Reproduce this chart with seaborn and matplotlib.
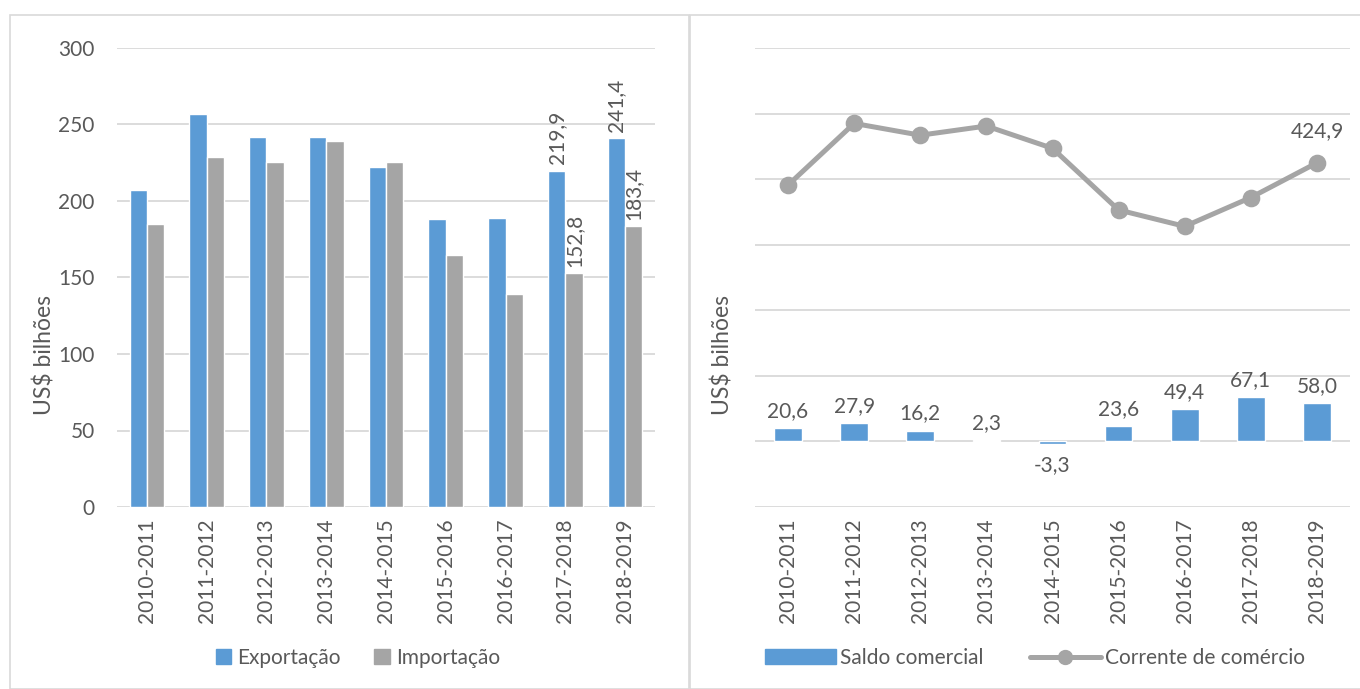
import numpy as np
import pandas as pd
import seaborn as sns
import matplotlib.pyplot as plt
from matplotlib.patches import Rectangle, Patch
from matplotlib.lines import Line2D

# dados (US$ bilhões)
periodos = ['2010-2011', '2011-2012', '2012-2013', '2013-2014', '2014-2015',
            '2015-2016', '2016-2017', '2017-2018', '2018-2019']
exportacao = [207.2, 256.7, 241.8, 241.8, 222.5, 188.5, 188.8, 219.9, 241.4]
importacao = [184.8, 228.8, 225.6, 239.5, 225.6, 164.9, 139.0, 152.8, 183.4]
saldo = [20.6, 27.9, 16.2, 2.3, -3.3, 23.6, 49.4, 67.1, 58.0]
corrente = [391.0, 485.0, 467.0, 481.0, 447.0, 353.0, 328.0, 372.0, 424.9]

azul = '#5B9BD5'
cinza = '#A5A5A5'
texto = '#595959'
grade = '#D9D9D9'
fs = 15

sns.set_theme(style='white')
plt.rcParams['font.family'] = ['Lato', 'DejaVu Sans']
plt.rcParams['text.color'] = texto

W, H = 1360, 689
fig = plt.figure(figsize=(W / 100, H / 100), dpi=100)

# molduras dos dois painéis
fig.patches.append(Rectangle((10 / W, 0), 679 / W, 1 - 15 / H, transform=fig.transFigure,
                             fill=False, edgecolor=grade, linewidth=1.2))
fig.patches.append(Rectangle((690 / W, 0), 680 / W, 1 - 15 / H, transform=fig.transFigure,
                             fill=False, edgecolor=grade, linewidth=1.2))

ax1 = fig.add_axes([117 / W, 1 - 507 / H, 538 / W, 459 / H])
ax2 = fig.add_axes([755 / W, 1 - 507 / H, 595 / W, 459 / H])

# painel esquerdo
df = pd.DataFrame({'periodo': periodos * 2,
                   'valor': exportacao + importacao,
                   'tipo': ['Exportação'] * 9 + ['Importação'] * 9})
sns.barplot(data=df, x='periodo', y='valor', hue='tipo', palette=[azul, cinza],
            width=0.58, saturation=1, ax=ax1, legend=False, zorder=3)
ax1.set_ylim(0, 300)
ax1.set_yticks(range(0, 301, 50))
ax1.set_xlim(-0.5, 8.5)
ax1.grid(axis='y', color=grade, linewidth=1.3, zorder=0)

for i in (7, 8):
    ax1.text(i - 0.145, exportacao[i] + 4, f'{exportacao[i]:.1f}'.replace('.', ','),
             rotation=90, ha='center', va='bottom', fontsize=fs, color=texto)
    ax1.text(i + 0.145, importacao[i] + 4, f'{importacao[i]:.1f}'.replace('.', ','),
             rotation=90, ha='center', va='bottom', fontsize=fs, color=texto)

ax1.legend(handles=[Patch(color=azul, label='Exportação'), Patch(color=cinza, label='Importação')],
           loc='center', bbox_to_anchor=(358 / W, 1 - 658 / H), bbox_transform=fig.transFigure,
           ncol=2, frameon=False, fontsize=fs, handlelength=0.75, handleheight=0.75,
           handletextpad=0.3, columnspacing=1.6, labelcolor=texto)

# painel direito
sns.barplot(x=periodos, y=saldo, color=azul, width=0.42, saturation=1, ax=ax2, zorder=3)
sns.pointplot(x=periodos, y=corrente, color=cinza, markers='o', ax=ax2,
              linewidth=3.6, markersize=10, zorder=4)
ax2.set_ylim(-100, 600)
ax2.set_yticks(range(-100, 601, 100))
ax2.set_yticklabels([])
ax2.set_xlim(-0.5, 8.5)
ax2.grid(axis='y', color=grade, linewidth=1.3, zorder=0)

for i, v in enumerate(saldo):
    lbl = f'{v:.1f}'.replace('.', ',')
    if v >= 0:
        ax2.text(i, v + 11, lbl, ha='center', va='bottom', fontsize=fs, color=texto)
    else:
        ax2.text(i, v - 33, lbl, ha='center', va='center', fontsize=fs, color=texto)
ax2.text(8, corrente[8] + 49, '424,9', ha='center', va='center', fontsize=fs, color=texto)

ax2.legend(handles=[Patch(color=azul, label='Saldo comercial'),
                    Line2D([], [], color=cinza, linewidth=3.6, marker='o', markersize=10,
                           label='Corrente de comércio')],
           loc='center', bbox_to_anchor=(1035 / W, 1 - 658 / H), bbox_transform=fig.transFigure,
           ncol=2, frameon=False, fontsize=fs, handlelength=3.4, handleheight=0.75,
           handletextpad=0.2, columnspacing=2.2, labelcolor=texto)

for ax in (ax1, ax2):
    ax.set_xlabel('')
    ax.set_ylabel('')
    sns.despine(ax=ax, left=True, bottom=True)
    ax.tick_params(axis='x', rotation=90, labelsize=fs, colors=texto, length=0, pad=8)
    ax.tick_params(axis='y', labelsize=fs, colors=texto, length=0, pad=16)

fig.text(45 / W, 1 - 355 / H, 'US$ bilhões', rotation=90, ha='center', va='center',
         fontsize=16.5, color=texto)
fig.text(722 / W, 1 - 355 / H, 'US$ bilhões', rotation=90, ha='center', va='center',
         fontsize=16.5, color=texto)

fig.savefig('out.png', dpi=100)
